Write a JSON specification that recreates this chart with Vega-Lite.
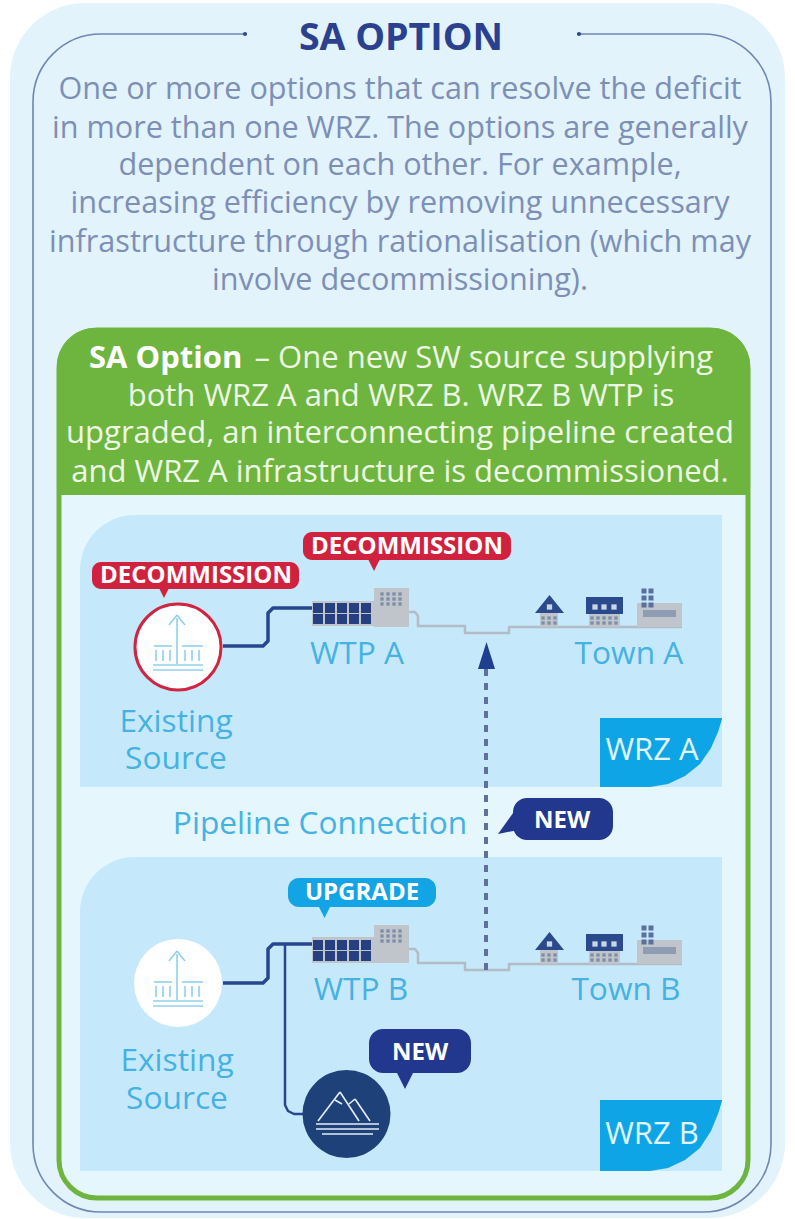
{"$schema":"https://vega.github.io/schema/vega-lite/v6.json","width":795,"height":1219,"padding":0,"autosize":{"type":"fit","contains":"padding"},"background":"#ffffff","config":{"view":{"stroke":null}},
"encoding":{"x":{"field":"x","type":"quantitative","scale":{"domain":[0,795],"nice":false,"zero":false},"axis":null},"y":{"field":"y","type":"quantitative","scale":{"domain":[1219,0],"nice":false,"zero":false},"axis":null}},
"layer":[
{"mark":{"type":"rect","fill":"#e2f3fb","cornerRadius":75},"data":{"values":[{"x":10,"x2":785,"y":3,"y2":1218}]},"encoding":{"x2":{"field":"x2"},"y2":{"field":"y2"}}},
{"mark":{"type":"rect","fill":"transparent","stroke":"#6f86b6","strokeWidth":1.6,"cornerRadius":68},"data":{"values":[{"x":33,"x2":771,"y":34,"y2":1212}]},"encoding":{"x2":{"field":"x2"},"y2":{"field":"y2"}}},
{"mark":{"type":"rect","fill":"#e2f3fb"},"data":{"values":[{"x":246,"x2":577,"y":24,"y2":46}]},"encoding":{"x2":{"field":"x2"},"y2":{"field":"y2"}}},
{"mark":{"type":"point","filled":true,"fill":"#2f4a8f","size":18,"opacity":1},"data":{"values":[{"x":245,"y":34},{"x":579,"y":34}]}},
{"mark":{"type":"rect","fill":"#e6f6fd","stroke":"#6db53f","strokeWidth":5,"cornerRadius":38},"data":{"values":[{"x":59,"x2":748,"y":330,"y2":1198}]},"encoding":{"x2":{"field":"x2"},"y2":{"field":"y2"}}},
{"mark":{"type":"rect","fill":"#6db53f","cornerRadiusTopLeft":38,"cornerRadiusTopRight":38},"data":{"values":[{"x":57,"x2":750,"y":328,"y2":495}]},"encoding":{"x2":{"field":"x2"},"y2":{"field":"y2"}}},
{"mark":{"type":"rect","fill":"#c5e9fa","cornerRadiusTopLeft":55},"data":{"values":[{"name":"WRZ A","x":80,"x2":722,"y":515,"y2":787},{"name":"WRZ B","x":80,"x2":722,"y":857,"y2":1171}]},"encoding":{"x2":{"field":"x2"},"y2":{"field":"y2"}}},
{"mark":{"type":"area","fill":"#0ea5e6","orient":"vertical"},"data":{"values":[
{"z":"A","x":600,"y":718,"y2":787},{"z":"A","x":650,"y":718,"y2":787},{"z":"A","x":668,"y":718,"y2":784},{"z":"A","x":685,"y":718,"y2":776},{"z":"A","x":700,"y":718,"y2":764},{"z":"A","x":711,"y":718,"y2":748},{"z":"A","x":718,"y":718,"y2":732},{"z":"A","x":722,"y":718,"y2":719},
{"z":"B","x":600,"y":1100,"y2":1171},{"z":"B","x":650,"y":1100,"y2":1171},{"z":"B","x":668,"y":1100,"y2":1168},{"z":"B","x":685,"y":1100,"y2":1160},{"z":"B","x":700,"y":1100,"y2":1148},{"z":"B","x":711,"y":1100,"y2":1131},{"z":"B","x":718,"y":1100,"y2":1114},{"z":"B","x":722,"y":1100,"y2":1101}]},"encoding":{"y2":{"field":"y2"},"detail":{"field":"z"}}},
{"mark":{"type":"line","stroke":"#b3bcc6","strokeWidth":2.5,"strokeJoin":"round"},"data":{"values":[
{"p":"A","o":1,"x":409,"y":612},{"p":"A","o":2,"x":415,"y":612},{"p":"A","o":3,"x":418,"y":616},{"p":"A","o":4,"x":418,"y":626},{"p":"A","o":5,"x":465,"y":626},{"p":"A","o":6,"x":465,"y":633},{"p":"A","o":7,"x":509,"y":633},{"p":"A","o":8,"x":509,"y":627},{"p":"A","o":9,"x":682,"y":627},
{"p":"B","o":1,"x":409,"y":949},{"p":"B","o":2,"x":415,"y":949},{"p":"B","o":3,"x":418,"y":953},{"p":"B","o":4,"x":418,"y":963},{"p":"B","o":5,"x":465,"y":963},{"p":"B","o":6,"x":465,"y":970},{"p":"B","o":7,"x":509,"y":970},{"p":"B","o":8,"x":509,"y":964},{"p":"B","o":9,"x":682,"y":964}]},"encoding":{"detail":{"field":"p"},"order":{"field":"o"}}},
{"mark":{"type":"line","stroke":"#27468f","strokeWidth":3.5,"strokeJoin":"round"},"data":{"values":[
{"p":"A","o":1,"x":223,"y":646},{"p":"A","o":2,"x":263,"y":646},{"p":"A","o":3,"x":268,"y":641},{"p":"A","o":4,"x":268,"y":613},{"p":"A","o":5,"x":273,"y":608},{"p":"A","o":6,"x":312,"y":608},
{"p":"B","o":1,"x":223,"y":983},{"p":"B","o":2,"x":263,"y":983},{"p":"B","o":3,"x":268,"y":978},{"p":"B","o":4,"x":268,"y":949},{"p":"B","o":5,"x":273,"y":944},{"p":"B","o":6,"x":312,"y":944}]},"encoding":{"detail":{"field":"p"},"order":{"field":"o"}}},
{"mark":{"type":"line","stroke":"#27468f","strokeWidth":2.5,"strokeJoin":"round"},"data":{"values":[{"o":1,"x":285,"y":944},{"o":2,"x":285,"y":1105},{"o":3,"x":288,"y":1111},{"o":4,"x":294,"y":1114},{"o":5,"x":304,"y":1114}]},"encoding":{"order":{"field":"o"}}},
{"mark":{"type":"rule","stroke":"#5f7199","strokeWidth":4,"strokeDash":[7,7]},"data":{"values":[{"x":486,"y":669,"y2":970}]},"encoding":{"y2":{"field":"y2"}}},
{"mark":{"type":"point","filled":true,"fill":"#1f3f8e","opacity":1,"size":289,"shape":"M0,-1.6 L1,1.6 L-1,1.6 Z"},"data":{"values":[{"x":486.5,"y":655.5}]}},
{"mark":{"type":"point","filled":true,"opacity":1,"fill":"#ffffff","stroke":"#cf2542","strokeWidth":3,"size":7400,"shape":"circle"},"data":{"values":[{"x":178,"y":647}]}},
{"mark":{"type":"point","filled":true,"opacity":1,"fill":"#ffffff","size":7744,"shape":"circle"},"data":{"values":[{"x":178,"y":983}]}},
{"mark":{"type":"point","filled":true,"opacity":1,"fill":"#1f4179","size":7744,"shape":"circle"},"data":{"values":[{"x":346.5,"y":1114}]}},
{"mark":{"type":"rule","stroke":"#8fd0ee","strokeWidth":1.6},"data":{"values":[
{"x":177,"y":618,"x2":177,"y2":664},{"x":177,"y":615,"x2":169,"y2":625},{"x":177,"y":615,"x2":185,"y2":625},{"x":154,"y":646,"x2":172,"y2":646},{"x":182,"y":646,"x2":203,"y2":646},{"x":153,"y":665,"x2":203,"y2":665},{"x":153,"y":670,"x2":203,"y2":670},{"x":156,"y":650,"x2":156,"y2":661},{"x":163,"y":650,"x2":163,"y2":661},{"x":170,"y":650,"x2":170,"y2":661},{"x":185,"y":650,"x2":185,"y2":661},{"x":192,"y":650,"x2":192,"y2":661},{"x":199,"y":650,"x2":199,"y2":661},
{"x":177,"y":954,"x2":177,"y2":1000},{"x":177,"y":951,"x2":169,"y2":961},{"x":177,"y":951,"x2":185,"y2":961},{"x":154,"y":982,"x2":172,"y2":982},{"x":182,"y":982,"x2":203,"y2":982},{"x":153,"y":1001,"x2":203,"y2":1001},{"x":153,"y":1006,"x2":203,"y2":1006},{"x":156,"y":986,"x2":156,"y2":997},{"x":163,"y":986,"x2":163,"y2":997},{"x":170,"y":986,"x2":170,"y2":997},{"x":185,"y":986,"x2":185,"y2":997},{"x":192,"y":986,"x2":192,"y2":997},{"x":199,"y":986,"x2":199,"y2":997}]},"encoding":{"x2":{"field":"x2"},"y2":{"field":"y2"}}},
{"mark":{"type":"rule","stroke":"#e4eef6","strokeWidth":1.6},"data":{"values":[
{"x":318,"y":1121,"x2":340,"y2":1092},{"x":340,"y":1092,"x2":359,"y2":1121},{"x":349,"y":1104,"x2":355,"y2":1099},{"x":355,"y":1099,"x2":370,"y2":1121},{"x":335,"y":1100,"x2":342,"y2":1104},
{"x":316,"y":1124,"x2":379,"y2":1124},{"x":316,"y":1129,"x2":379,"y2":1129},{"x":322,"y":1134,"x2":373,"y2":1134}]},"encoding":{"x2":{"field":"x2"},"y2":{"field":"y2"}}},
{"mark":{"type":"rect","fill":"#bfc5ca"},"data":{"values":[
{"n":"building A","x":374,"x2":409,"y":588,"y2":627},{"n":"base A","x":312,"x2":374,"y":601,"y2":626},
{"n":"building B","x":374,"x2":409,"y":925,"y2":963},{"n":"base B","x":312,"x2":374,"y":937,"y2":963},
{"n":"house A","x":540,"x2":558,"y":613,"y2":627},{"n":"row A","x":589,"x2":620,"y":614,"y2":627},{"n":"factory A","x":637,"x2":682,"y":603,"y2":627},
{"n":"house B","x":540,"x2":558,"y":950,"y2":964},{"n":"row B","x":589,"x2":620,"y":951,"y2":964},{"n":"factory B","x":637,"x2":682,"y":940,"y2":964}]},"encoding":{"x2":{"field":"x2"},"y2":{"field":"y2"}}},
{"mark":{"type":"rect","fill":"#8e9db3"},"data":{"values":[{"x":643,"x2":676,"y":610,"y2":617},{"x":643,"x2":676,"y":947,"y2":954}]},"encoding":{"x2":{"field":"x2"},"y2":{"field":"y2"}}},
{"mark":{"type":"rect","fill":"#2b4a8c"},"data":{"values":[{"x":586,"x2":623,"y":597,"y2":614},{"x":586,"x2":623,"y":934,"y2":951}]},"encoding":{"x2":{"field":"x2"},"y2":{"field":"y2"}}},
{"mark":{"type":"point","filled":true,"opacity":1,"fill":"#2b4a8c","size":841,"shape":"M0,-0.62 L1,0.62 L-1,0.62 Z"},"data":{"values":[{"x":549.5,"y":604},{"x":549.5,"y":941}]}},
{"mark":{"type":"point","filled":true,"opacity":1,"fill":"#26407f","size":100,"shape":"square"},"data":{"values":[
{"x":318,"y":608},{"x":330,"y":608},{"x":342,"y":608},{"x":354,"y":608},{"x":366,"y":608},{"x":318,"y":619},{"x":330,"y":619},{"x":342,"y":619},{"x":354,"y":619},{"x":366,"y":619},
{"x":318,"y":945},{"x":330,"y":945},{"x":342,"y":945},{"x":354,"y":945},{"x":366,"y":945},{"x":318,"y":956},{"x":330,"y":956},{"x":342,"y":956},{"x":354,"y":956},{"x":366,"y":956}]}},
{"mark":{"type":"point","filled":true,"opacity":1,"fill":"#7f8ea8","size":11,"shape":"square"},"data":{"values":[
{"x":382,"y":594},{"x":388,"y":594},{"x":394,"y":594},{"x":400,"y":594},{"x":382,"y":599},{"x":388,"y":599},{"x":394,"y":599},{"x":400,"y":599},{"x":382,"y":604},{"x":388,"y":604},{"x":394,"y":604},{"x":400,"y":604},
{"x":382,"y":931},{"x":388,"y":931},{"x":394,"y":931},{"x":400,"y":931},{"x":382,"y":936},{"x":388,"y":936},{"x":394,"y":936},{"x":400,"y":936},{"x":382,"y":941},{"x":388,"y":941},{"x":394,"y":941},{"x":400,"y":941},
{"x":543,"y":618},{"x":549,"y":618},{"x":555,"y":618},{"x":543,"y":623},{"x":549,"y":623},{"x":555,"y":623},
{"x":543,"y":955},{"x":549,"y":955},{"x":555,"y":955},{"x":543,"y":960},{"x":549,"y":960},{"x":555,"y":960},
{"x":592,"y":618},{"x":598,"y":618},{"x":604,"y":618},{"x":610,"y":618},{"x":616,"y":618},{"x":592,"y":623},{"x":598,"y":623},{"x":604,"y":623},{"x":610,"y":623},{"x":616,"y":623},
{"x":592,"y":955},{"x":598,"y":955},{"x":604,"y":955},{"x":610,"y":955},{"x":616,"y":955},{"x":592,"y":960},{"x":598,"y":960},{"x":604,"y":960},{"x":610,"y":960},{"x":616,"y":960}]}},
{"mark":{"type":"point","filled":true,"opacity":1,"fill":"#c9d6e6","size":28,"shape":"square"},"data":{"values":[{"x":595,"y":607},{"x":604,"y":607},{"x":614,"y":607},{"x":549.5,"y":607},{"x":595,"y":944},{"x":604,"y":944},{"x":614,"y":944},{"x":549.5,"y":944}]}},
{"mark":{"type":"point","filled":true,"opacity":1,"fill":"#5b6f9c","size":25,"shape":"square"},"data":{"values":[{"x":644,"y":591},{"x":651,"y":591},{"x":644,"y":598},{"x":651,"y":598},{"x":644,"y":605},{"x":651,"y":605},{"x":644,"y":928},{"x":651,"y":928},{"x":644,"y":935},{"x":651,"y":935},{"x":644,"y":942},{"x":651,"y":942}]}},
{"mark":{"type":"rect","fill":"#d0223f","cornerRadius":9},"data":{"values":[{"x":303,"x2":511,"y":532,"y2":560},{"x":92,"x2":299,"y":562,"y2":589}]},"encoding":{"x2":{"field":"x2"},"y2":{"field":"y2"}}},
{"mark":{"type":"point","filled":true,"opacity":1,"fill":"#d0223f","size":484,"shape":"M-1,-1 L1,-1 L0,1 Z"},"data":{"values":[{"x":374,"y":560},{"x":164,"y":587}]}},
{"mark":{"type":"rect","fill":"#12a4e4","cornerRadius":11},"data":{"values":[{"x":288,"x2":436,"y":878,"y2":907}]},"encoding":{"x2":{"field":"x2"},"y2":{"field":"y2"}}},
{"mark":{"type":"point","filled":true,"opacity":1,"fill":"#12a4e4","size":484,"shape":"M-1,-1 L1,-1 L0,1 Z"},"data":{"values":[{"x":324.5,"y":907}]}},
{"mark":{"type":"rect","fill":"#22388f","cornerRadius":14},"data":{"values":[{"x":513,"x2":613,"y":798,"y2":840},{"x":369,"x2":471,"y":1029,"y2":1073}]},"encoding":{"x2":{"field":"x2"},"y2":{"field":"y2"}}},
{"mark":{"type":"point","filled":true,"opacity":1,"fill":"#22388f","size":784,"shape":"M-1,-1 L1,-1 L0,1 Z"},"data":{"values":[{"x":405,"y":1075}]}},
{"mark":{"type":"point","filled":true,"opacity":1,"fill":"#22388f","size":324,"shape":"M0.8,-1.5 L-1,1 L1,0.6 Z"},"data":{"values":[{"x":507,"y":825}]}},
{"mark":{"type":"text","font":"Open Sans","fontWeight":"bold","fontSize":37.5,"dy":2,"fill":"#2b4190","align":"center","baseline":"middle"},"data":{"values":[{"x":401,"y":37,"t":"SA OPTION"}]},"encoding":{"text":{"field":"t"}}},
{"mark":{"type":"text","font":"Open Sans","fontSize":30.6,"dy":2,"fill":"#7d8fb6","align":"center","baseline":"middle"},"data":{"values":[
{"x":400,"y":88,"t":"One or more options that can resolve the deficit"},{"x":400,"y":127,"t":"in more than one WRZ. The options are generally"},{"x":400,"y":164,"t":"dependent on each other. For example,"},{"x":400,"y":202,"t":"increasing efficiency by removing unnecessary"},{"x":400,"y":241,"t":"infrastructure through rationalisation (which may"},{"x":400,"y":279,"t":"involve decommissioning)."}]},"encoding":{"text":{"field":"t"}}},
{"mark":{"type":"text","font":"Open Sans","fontSize":31,"dy":2,"fill":"#eef8e6","align":"center","baseline":"middle"},"data":{"values":[
{"x":401,"y":395,"t":"both WRZ A and WRZ B. WRZ B WTP is"},{"x":400,"y":432,"t":"upgraded, an interconnecting pipeline created"},{"x":400,"y":471,"t":"and WRZ A infrastructure is decommissioned."}]},"encoding":{"text":{"field":"t"}}},
{"mark":{"type":"text","font":"Open Sans","fontSize":31,"dy":2,"fill":"#eef8e6","align":"right","baseline":"middle"},"data":{"values":[{"x":713,"y":357,"t":"– One new SW source supplying"}]},"encoding":{"text":{"field":"t"}}},
{"mark":{"type":"text","font":"Open Sans","fontWeight":"bold","fontSize":31,"dy":2,"fill":"#ffffff","align":"left","baseline":"middle"},"data":{"values":[{"x":89,"y":357,"t":"SA Option"}]},"encoding":{"text":{"field":"t"}}},
{"mark":{"type":"text","font":"Open Sans","fontSize":31.7,"dy":2,"fill":"#45b2e3","align":"center","baseline":"middle"},"data":{"values":[
{"x":357,"y":652,"t":"WTP A"},{"x":629,"y":652,"t":"Town A"},{"x":176,"y":720,"t":"Existing"},{"x":176,"y":757,"t":"Source"},{"x":320,"y":822,"t":"Pipeline Connection"},{"x":361,"y":988,"t":"WTP B"},{"x":626,"y":988,"t":"Town B"},{"x":177,"y":1059,"t":"Existing"},{"x":177,"y":1097,"t":"Source"}]},"encoding":{"text":{"field":"t"}}},
{"mark":{"type":"text","font":"Open Sans","fontSize":31,"dy":2,"fill":"#e3f5fd","align":"center","baseline":"middle"},"data":{"values":[{"x":652,"y":749,"t":"WRZ A"},{"x":652,"y":1133,"t":"WRZ B"}]},"encoding":{"text":{"field":"t"}}},
{"mark":{"type":"text","font":"Open Sans","fontWeight":"bold","fontSize":24,"dy":1,"fill":"#ffffff","align":"center","baseline":"middle"},"data":{"values":[{"x":407,"y":546,"t":"DECOMMISSION"},{"x":196,"y":575,"t":"DECOMMISSION"},{"x":362,"y":892,"t":"UPGRADE"},{"x":562,"y":820,"t":"NEW"},{"x":420,"y":1052,"t":"NEW"}]},"encoding":{"text":{"field":"t"}}}
]}
